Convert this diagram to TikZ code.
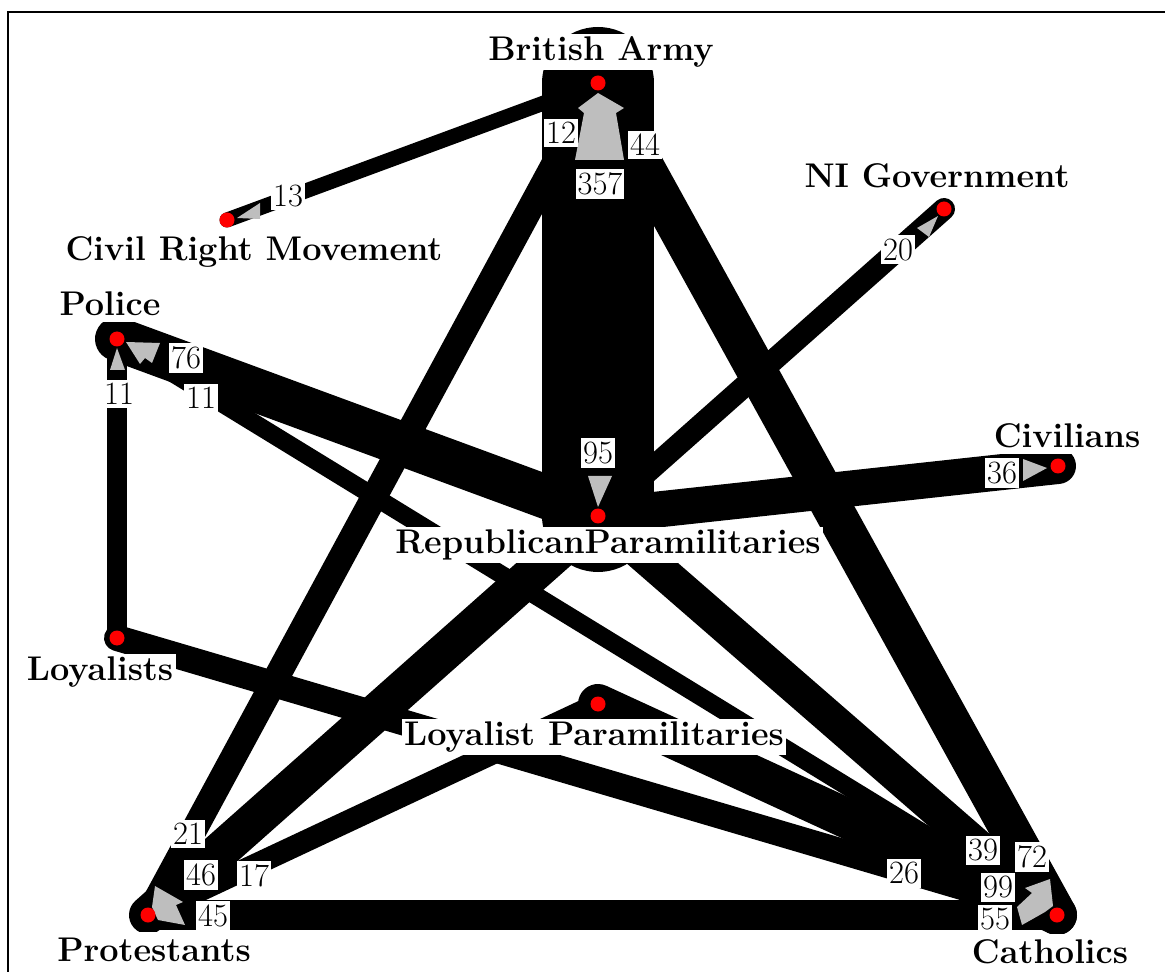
\documentclass[tikz,border=0pt]{standalone}
\usepackage{fontspec}
\definecolor{headgray}{RGB}{190,190,190}
\begin{document}
\begin{tikzpicture}[x=0.02cm,y=-0.02cm,
  link/.style={draw=black,line cap=round,line width=#1*0.02cm},
  reddot/.style={circle,fill=red,draw=none,minimum size=0.3cm,inner sep=0pt},
  num/.style={fill=white,inner xsep=0.04cm,inner ysep=0.07cm,font=\fontsize{18.5}{20}\selectfont},
  actor/.style={fill=white,inner xsep=0.05cm,inner ysep=0pt,minimum height=0.72cm,
    font=\fontsize{19.5}{22}\selectfont\bfseries},
  arrowhd/.style={fill=headgray,draw=none}]
\useasboundingbox (0,0) rectangle (1165,972);
% frame
\draw[line width=0.05cm] (8,972) -- (8,12) -- (1165,12);

% actor positions
\coordinate (BA)  at (598,83);
\coordinate (CRM) at (227,220);
\coordinate (NIG) at (944,209);
\coordinate (POL) at (117,339);
\coordinate (CIV) at (1058,466);
\coordinate (RP)  at (598,516);
\coordinate (LOY) at (117,638);
\coordinate (LP)  at (598,704);
\coordinate (PRO) at (148,915);
\coordinate (CAT) at (1057,915);

% weighted ties
\draw[link=112] (RP) -- (BA);
\draw[link=40] (BA) -- (CAT);
\draw[link=26] (BA) -- (PRO);
\draw[link=15] (BA) -- (CRM);
\draw[link=22] (RP) -- (NIG);
\draw[link=44] (RP) -- (POL);
\draw[link=36] (RP) -- (CIV);
\draw[link=34] (RP) -- (CAT);
\draw[link=38] (RP) -- (PRO);
\draw[link=18] (POL) -- (CAT);
\draw[link=20] (POL) -- (LOY);
\draw[link=26] (LOY) -- (CAT);
\draw[link=22] (LP) -- (PRO);
\draw[link=40] (LP) -- (CAT);
\draw[link=30] (PRO) -- (CAT);

% arrowheads
\fill[arrowhd] (598,93) -- (624,108) -- (616,113) -- (624,160) -- (575,160) -- (584,113) -- (578,108) -- cycle;
\fill[arrowhd] (126,342) -- (160,343) -- (152,363) -- (145,358) -- (140,364) -- cycle;
\fill[arrowhd] (117,348) -- (125,370) -- (110,370) -- cycle;
\fill[arrowhd] (1047,468) -- (1023,459) -- (1023,481) -- cycle;
\fill[arrowhd] (938,216) -- (929,237) -- (917,228) -- cycle;
\fill[arrowhd] (237,218) -- (260,203) -- (260,219) -- cycle;
\fill[arrowhd] (588,476) -- (612,476) -- (598,507) -- cycle;
\fill[arrowhd] (1025,888) -- (1050,879) -- (1053,906) -- (1045,912) -- (1022,925) -- (1017,907) -- (1032,893) -- cycle;
\fill[arrowhd] (155,886) -- (183,902) -- (176,905) -- (185,925) -- (158,920) -- (152,907) -- cycle;

% tie values
\node[num] (v12)  at (561,133) {12};
\node[num] (v44)  at (645,145) {44};
\node[num] (v357) at (600,184) {357};
\node[num] (v13)  at (288,196) {13};
\node[num] (v20)  at (898,250) {20};
\node[num] (v76)  at (186,358) {76};
\node[num] (v11a) at (201,398) {11};
\node[num] (v11b) at (119,394) {11};
\node[num] (v95)  at (598,453) {95};
\node[num] (v36)  at (1002,473) {36};
\node[num] (v21)  at (188,834) {21};
\node[num] (v46)  at (201,875) {46};
\node[num] (v17)  at (254,876) {17};
\node[num] (v45)  at (213,916) {45};
\node[num] (v39)  at (983,850) {39};
\node[num] (v72)  at (1032,857) {72};
\node[num] (v99)  at (998,887) {99};
\node[num] (v55)  at (995,919) {55};
\node[num] (v26)  at (904,873) {26};

% actor names
\node[actor] (tBA)  at (601,52)  {British Army};
\node[actor] (tCRM) at (254,252) {Civil Right Movement};
\node[actor] (tNIG) at (937,176) {NI Government};
\node[actor] (tPOL) at (110,304) {Police};
\node[actor] (tCIV) at (1067,436) {Civilians};
\node[actor] (tRP)  at (608,545) {RepublicanParamilitaries};
\node[actor] (tLOY) at (100,672) {Loyalists};
\node[actor] (tLP)  at (594,737) {Loyalist Paramilitaries};
\node[actor] (tPRO) at (154,950) {Protestants};
\node[actor] (tCAT) at (1050,952) {Catholics};

% actors
\foreach \a in {BA,CRM,NIG,POL,CIV,RP,LOY,LP,PRO,CAT}
  \node[reddot] (d\a) at (\a) {};
\end{tikzpicture}
\end{document}
